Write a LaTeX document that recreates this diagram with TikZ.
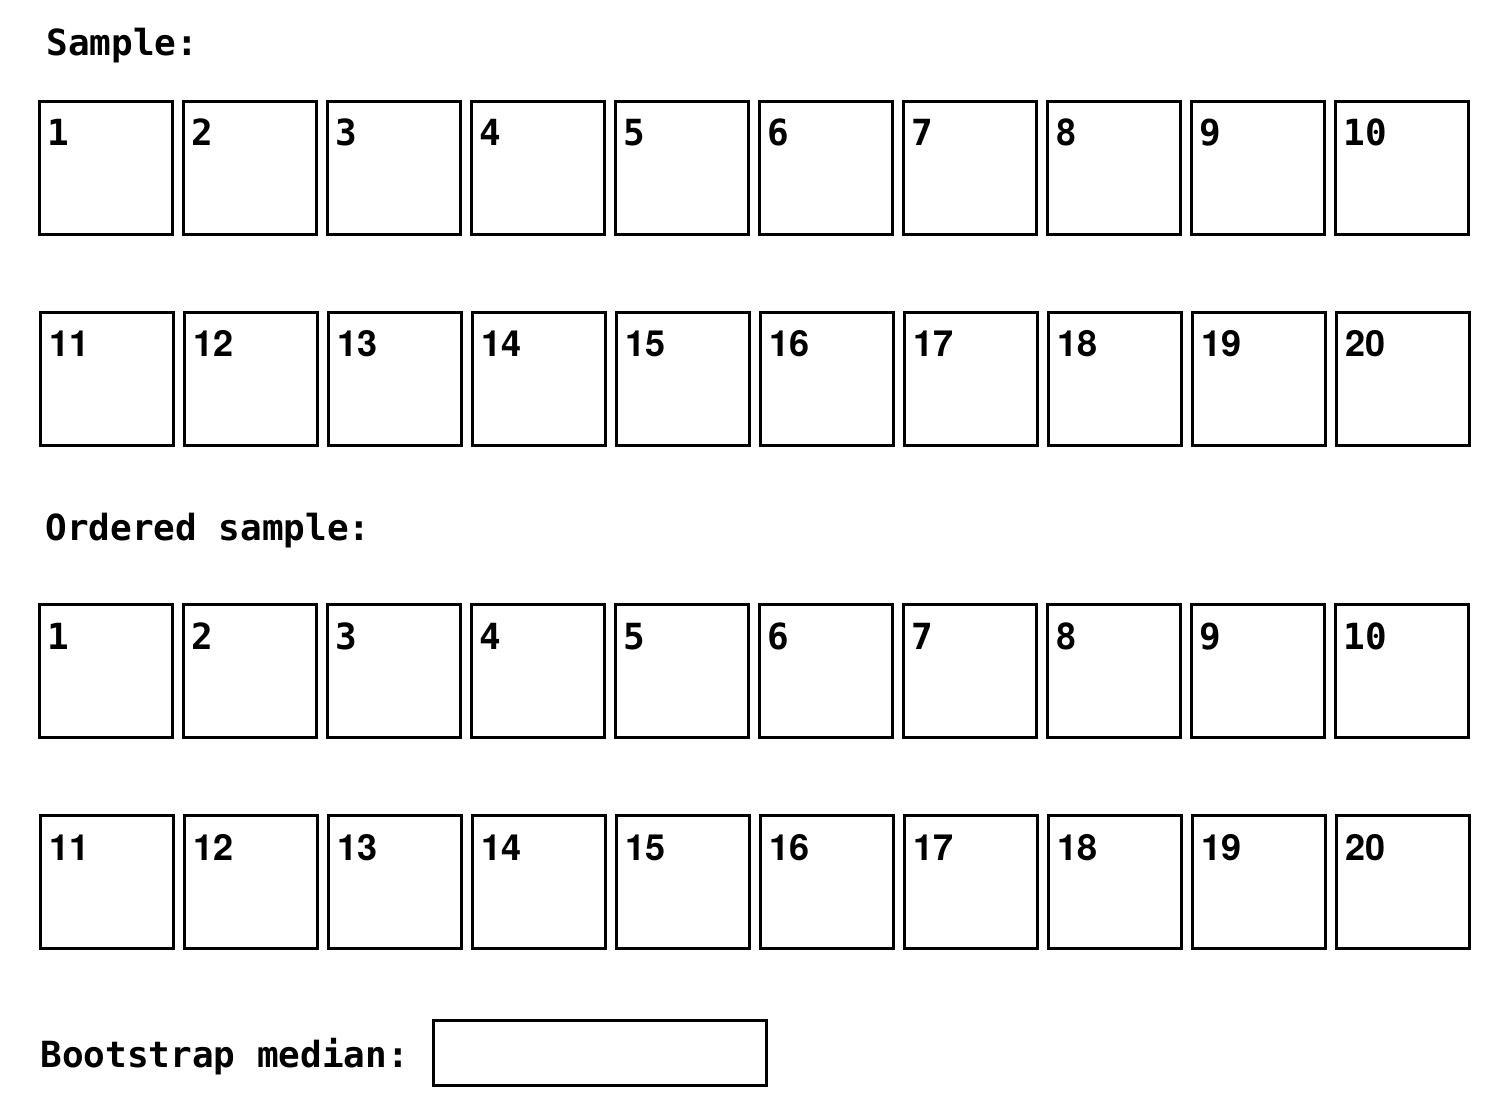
\documentclass[tikz,border=0pt]{standalone}
\usepackage{fontspec}
\setmonofont{DejaVu Sans Mono}
\newfontfamily\cellsans{TeX Gyre Heros}
\tikzset{
  cell/.style={draw, line width=1.6pt, minimum width=66.4pt,
               minimum height=66.4pt, inner sep=0pt},
  numtt/.style={anchor=base west, inner sep=0pt,
                font=\ttfamily\bfseries\fontsize{18}{20}\selectfont},
  numsf/.style={anchor=base west, inner sep=0pt,
                font=\fontsize{18}{20}\cellsans\bfseries},
  head/.style={anchor=base west, inner sep=0pt,
               font=\ttfamily\bfseries\fontsize{18}{20}\selectfont},
  answer/.style={draw, line width=1.6pt, minimum width=166.4pt,
                 minimum height=32.4pt, inner sep=0pt},
}

\begin{document}
\begin{tikzpicture}[x=0.5pt, y=-0.5pt]
\useasboundingbox (0,0) rectangle (1500,1112);

%% sample
\node[head] (samplelbl) at (46,56) {Sample:};
\foreach \i in {1,...,10} {
  \node[cell] (s\i) at ({106+144*(\i-1)},168) {};
  \node[numtt] at ([shift={(9,46)}]s\i.north west) {\i};
}
\foreach \i in {11,...,20} {
  \node[cell] (s\i) at ({107+144*(\i-11)},379) {};
  \node[numsf] at ([shift={(10,46)}]s\i.north west) {\i};
}

%% ordered sample
\node[head] (orderlbl) at (45,541) {Ordered sample:};
\foreach \i in {1,...,10} {
  \node[cell] (o\i) at ({106+144*(\i-1)},671) {};
  \node[numtt] at ([shift={(9,46)}]o\i.north west) {\i};
}
\foreach \i in {11,...,20} {
  \node[cell] (o\i) at ({107+144*(\i-11)},882) {};
  \node[numsf] at ([shift={(10,46)}]o\i.north west) {\i};
}

%% result
\node[head] (medlbl) at (40,1067) {Bootstrap median:};
\node[answer] (med) at (600,1053) {};

\end{tikzpicture}
\end{document}
